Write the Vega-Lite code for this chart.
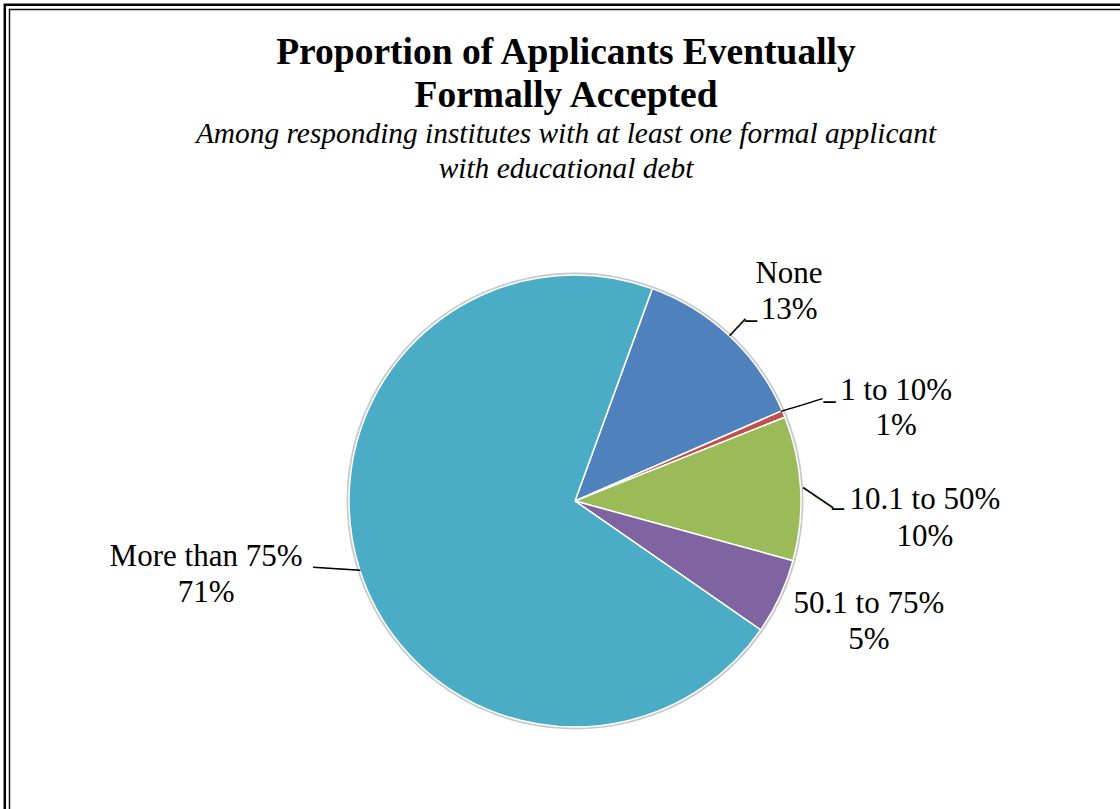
{
  "$schema": "https://vega.github.io/schema/vega-lite/v6.json",
  "width": 1150,
  "height": 1002,
  "autosize": {"type": "none"},
  "padding": 0,
  "background": "white",
  "config": {"view": {"stroke": null, "fill": "white"}},
  "title": {
    "text": ["Proportion of Applicants Eventually", "Formally Accepted"],
    "subtitle": ["Among responding institutes with at least one formal applicant", "with educational debt"],
    "font": "Liberation Serif",
    "fontSize": 37.5,
    "fontWeight": "bold",
    "lineHeight": 43,
    "color": "#000000",
    "subtitleFont": "Liberation Serif",
    "subtitleFontSize": 29.4,
    "subtitleFontStyle": "italic",
    "subtitleLineHeight": 35,
    "subtitleColor": "#000000",
    "subtitlePadding": 5,
    "anchor": "middle",
    "frame": "group",
    "offset": -183,
    "dx": -9
  },
  "data": {
    "values": [
      {"category": "None", "share": 12.9, "order": 1, "label": "None\n13%"},
      {"category": "1 to 10%", "share": 0.5, "order": 2, "label": "1 to 10%\n1%"},
      {"category": "10.1 to 50%", "share": 10.3, "order": 3, "label": "10.1 to 50%\n10%"},
      {"category": "50.1 to 75%", "share": 5.4, "order": 4, "label": "50.1 to 75%\n5%"},
      {"category": "More than 75%", "share": 70.9, "order": 5, "label": "More than 75%\n71%"}
    ]
  },
  "layer": [
    {
      "data": {"values": [{"frame": "outer"}]},
      "mark": {"type": "rect", "filled": false, "color": "#000000", "strokeWidth": 2.5, "x": 4.8, "y": 4.8, "x2": 3000, "y2": 3000},
      "encoding": {}
    },
    {
      "data": {"values": [{"frame": "inner"}]},
      "mark": {"type": "rect", "filled": false, "color": "#111111", "strokeWidth": 1.5, "x": 9.5, "y": 9.5, "x2": 3000, "y2": 3000},
      "encoding": {}
    },
    {
      "data": {"values": [{"shadow": 1}]},
      "mark": {"type": "arc", "outerRadius": 228.5, "color": "#c9c9c9"},
      "encoding": {}
    },
    {
      "mark": {"type": "arc", "outerRadius": 226, "stroke": "white", "strokeWidth": 1.5},
      "encoding": {
        "theta": {"field": "share", "type": "quantitative", "stack": true, "scale": {"range": [0.349066, 6.632251]}},
        "order": {"field": "order", "type": "quantitative"},
        "color": {
          "field": "category", "type": "nominal",
          "scale": {"domain": ["None", "1 to 10%", "10.1 to 50%", "50.1 to 75%", "More than 75%"], "range": ["#4F81BD", "#C0504D", "#9BBB59", "#8064A2", "#4BACC6"]},
          "legend": null
        }
      }
    },
    {
      "mark": {"type": "text", "radius": 300, "dx": 8.6, "dy": -8.2, "font": "Liberation Serif", "fontSize": 31, "lineHeight": 36, "lineBreak": "\n", "align": "center", "baseline": "middle", "color": "#000000"},
      "encoding": {
        "theta": {"field": "share", "type": "quantitative", "stack": true},
        "order": {"field": "order", "type": "quantitative"},
        "text": {"condition": {"test": "datum.category === 'None'", "field": "label"}, "value": ""}
      }
    },
    {
      "mark": {"type": "text", "radius": 334, "dx": 13, "dy": 19, "font": "Liberation Serif", "fontSize": 31, "lineHeight": 35, "lineBreak": "\n", "align": "center", "baseline": "middle", "color": "#000000"},
      "encoding": {
        "theta": {"field": "share", "type": "quantitative", "stack": true},
        "order": {"field": "order", "type": "quantitative"},
        "text": {"condition": {"test": "datum.category === '1 to 10%'", "field": "label"}, "value": ""}
      }
    },
    {
      "mark": {"type": "text", "radius": 350, "dx": 0.5, "dy": 18.5, "font": "Liberation Serif", "fontSize": 31, "lineHeight": 37, "lineBreak": "\n", "align": "center", "baseline": "middle", "color": "#000000"},
      "encoding": {
        "theta": {"field": "share", "type": "quantitative", "stack": true},
        "order": {"field": "order", "type": "quantitative"},
        "text": {"condition": {"test": "datum.category === '10.1 to 50%'", "field": "label"}, "value": ""}
      }
    },
    {
      "mark": {"type": "text", "radius": 318, "dx": 5.8, "dy": -31.4, "font": "Liberation Serif", "fontSize": 31, "lineHeight": 36, "lineBreak": "\n", "align": "center", "baseline": "middle", "color": "#000000"},
      "encoding": {
        "theta": {"field": "share", "type": "quantitative", "stack": true},
        "order": {"field": "order", "type": "quantitative"},
        "text": {"condition": {"test": "datum.category === '50.1 to 75%'", "field": "label"}, "value": ""}
      }
    },
    {
      "mark": {"type": "text", "radius": 376, "dx": -10.6, "dy": -57.7, "font": "Liberation Serif", "fontSize": 31, "lineHeight": 36, "lineBreak": "\n", "align": "center", "baseline": "middle", "color": "#000000"},
      "encoding": {
        "theta": {"field": "share", "type": "quantitative", "stack": true},
        "order": {"field": "order", "type": "quantitative"},
        "text": {"condition": {"test": "datum.category === 'More than 75%'", "field": "label"}, "value": ""}
      }
    },
    {
      "mark": {"type": "text", "radius": 238, "angle": -47, "font": "DejaVu Sans Mono", "fontSize": 19, "align": "center", "baseline": "middle", "color": "#000000"},
      "encoding": {
        "theta": {"field": "share", "type": "quantitative", "stack": true},
        "order": {"field": "order", "type": "quantitative"},
        "text": {"condition": {"test": "datum.category === 'None'", "value": "──"}, "value": ""}
      }
    },
    {
      "mark": {"type": "text", "radius": 252, "dx": 3.5, "dy": 4.5, "font": "DejaVu Sans Mono", "fontSize": 20, "align": "center", "baseline": "middle", "color": "#000000"},
      "encoding": {
        "theta": {"field": "share", "type": "quantitative", "stack": true},
        "order": {"field": "order", "type": "quantitative"},
        "text": {"condition": {"test": "datum.category === 'None'", "value": "─"}, "value": ""}
      }
    },
    {
      "mark": {"type": "text", "radius": 246, "angle": -17, "font": "DejaVu Sans Mono", "fontSize": 18, "align": "center", "baseline": "middle", "color": "#000000"},
      "encoding": {
        "theta": {"field": "share", "type": "quantitative", "stack": true},
        "order": {"field": "order", "type": "quantitative"},
        "text": {"condition": {"test": "datum.category === '1 to 10%'", "value": "────"}, "value": ""}
      }
    },
    {
      "mark": {"type": "text", "radius": 273, "dx": 2.7, "dy": 7, "font": "DejaVu Sans Mono", "fontSize": 20, "align": "center", "baseline": "middle", "color": "#000000"},
      "encoding": {
        "theta": {"field": "share", "type": "quantitative", "stack": true},
        "order": {"field": "order", "type": "quantitative"},
        "text": {"condition": {"test": "datum.category === '1 to 10%'", "value": "─"}, "value": ""}
      }
    },
    {
      "mark": {"type": "text", "radius": 242, "angle": 34, "dx": 7, "dy": 8.6, "font": "DejaVu Sans Mono", "fontSize": 20, "align": "center", "baseline": "middle", "color": "#000000"},
      "encoding": {
        "theta": {"field": "share", "type": "quantitative", "stack": true},
        "order": {"field": "order", "type": "quantitative"},
        "text": {"condition": {"test": "datum.category === '10.1 to 50%'", "value": "───"}, "value": ""}
      }
    },
    {
      "mark": {"type": "text", "radius": 263, "dx": 0.4, "dy": 24, "font": "DejaVu Sans Mono", "fontSize": 20, "align": "center", "baseline": "middle", "color": "#000000"},
      "encoding": {
        "theta": {"field": "share", "type": "quantitative", "stack": true},
        "order": {"field": "order", "type": "quantitative"},
        "text": {"condition": {"test": "datum.category === '10.1 to 50%'", "value": "─"}, "value": ""}
      }
    },
    {
      "mark": {"type": "text", "radius": 248, "angle": 3.6, "dx": -2.5, "dy": -6.4, "font": "DejaVu Sans Mono", "fontSize": 19.5, "align": "center", "baseline": "middle", "color": "#000000"},
      "encoding": {
        "theta": {"field": "share", "type": "quantitative", "stack": true},
        "order": {"field": "order", "type": "quantitative"},
        "text": {"condition": {"test": "datum.category === 'More than 75%'", "value": "────"}, "value": ""}
      }
    }
  ]
}
